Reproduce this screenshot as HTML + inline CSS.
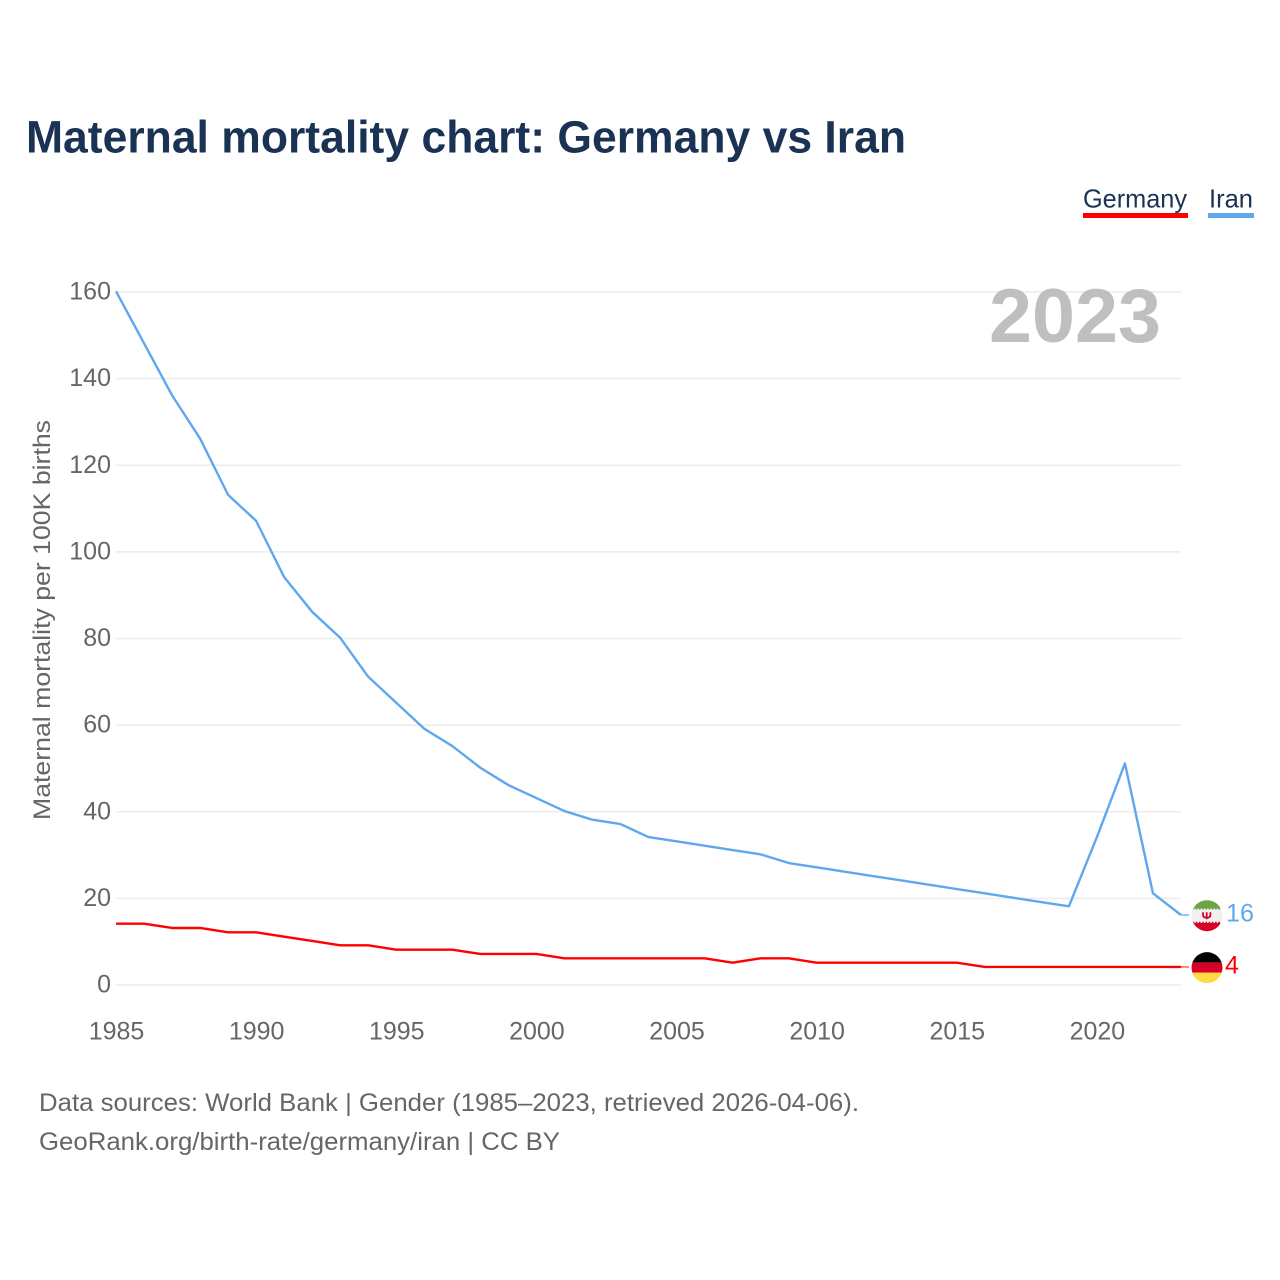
<!DOCTYPE html>
<html lang="en">
<head>
<meta charset="utf-8">
<title>Maternal mortality chart: Germany vs Iran</title>
<style>
html,body{margin:0;padding:0;background:#fff;width:1280px;height:1280px;overflow:hidden}
svg{display:block}
text{font-family:"Liberation Sans",sans-serif}
</style>
</head>
<body>
<svg id="chart" xmlns="http://www.w3.org/2000/svg" width="1280" height="1280" viewBox="0 0 1280 1280">
  <defs>
    <clipPath id="clip-iran"><circle id="clip-iran-circle" cx="1207" cy="915" r="15.5"></circle></clipPath>
    <clipPath id="clip-germany"><circle id="clip-germany-circle" cx="1207" cy="967" r="15.5"></circle></clipPath>
  </defs>
  <text x="26" y="152.5" font-size="45" font-weight="700" fill="#1a3354" textLength="880" lengthAdjust="spacingAndGlyphs">Maternal mortality chart: Germany vs Iran</text>

  <g>
    <g>
      <text x="1083" y="207.5" font-size="26" fill="#1a3354" textLength="104" lengthAdjust="spacingAndGlyphs">Germany</text>
      <rect x="1083" y="213" width="105" height="5" fill="#ff0000"></rect>
    </g>
    <g>
      <text x="1209" y="207.5" font-size="26" fill="#1a3354" textLength="44" lengthAdjust="spacingAndGlyphs">Iran</text>
      <rect x="1208" y="213" width="46" height="5" fill="#5fa8ee"></rect>
    </g>
  </g>

  <g id="grid"></g>
  <g id="y-ticks"></g>
  <g id="x-ticks"></g>

  <text x="989" y="342" font-size="76" font-weight="700" fill="#bfbfbf" textLength="172" lengthAdjust="spacingAndGlyphs">2023</text>

  <text transform="translate(50,820) rotate(-90)" x="0" y="0" font-size="24" fill="#666666" textLength="400" lengthAdjust="spacingAndGlyphs">Maternal mortality per 100K births</text>

  <g id="series" transform="translate(0,-0.7)"></g>

  <g id="flag-iran" clip-path="url(#clip-iran)"></g>
  <g id="flag-germany" clip-path="url(#clip-germany)"></g>
  <text id="value-iran" x="1226" font-size="25" fill="#5fa8ee" textLength="28" lengthAdjust="spacingAndGlyphs"></text>
  <text id="value-germany" x="1225" font-size="25" fill="#ff0000"></text>

  <text x="39" y="1111" font-size="25" fill="#666666" textLength="820" lengthAdjust="spacingAndGlyphs">Data sources: World Bank | Gender (1985–2023, retrieved 2026-04-06).</text>
  <text x="39" y="1150" font-size="25" fill="#666666" textLength="521" lengthAdjust="spacingAndGlyphs">GeoRank.org/birth-rate/germany/iran | CC BY</text>
</svg>
<script>
const years = [1985,1986,1987,1988,1989,1990,1991,1992,1993,1994,1995,1996,1997,1998,1999,2000,2001,2002,2003,2004,2005,2006,2007,2008,2009,2010,2011,2012,2013,2014,2015,2016,2017,2018,2019,2020,2021,2022,2023];
const iranValues = [160,148,136,126,113,107,94,86,80,71,65,59,55,50,46,43,40,38,37,34,33,32,31,30,28,27,26,25,24,23,22,21,20,19,18,34,51,21,16];
const germanyValues = [14,14,13,13,12,12,11,10,9,9,8,8,8,7,7,7,6,6,6,6,6,6,5,6,6,5,5,5,5,5,5,4,4,4,4,4,4,4,4];
const yTickValues = [0,20,40,60,80,100,120,140,160];
const xTickValues = [1985,1990,1995,2000,2005,2010,2015,2020];

const NS = 'http://www.w3.org/2000/svg';
function xScale(year){ return 116 + (year - 1985) * (1181 - 116) / 38; }
function yScale(v){ return 985 - v * (985 - 292) / 160; }
function make(tag, attrs, parent){
  const el = document.createElementNS(NS, tag);
  for (const k in attrs) el.setAttribute(k, attrs[k]);
  parent.appendChild(el);
  return el;
}

const grid = document.getElementById('grid');
const yTicks = document.getElementById('y-ticks');
yTickValues.forEach(function(v){
  const line = make('line', {x1:116, x2:1181, y1:yScale(v), y2:yScale(v), stroke:'#ececec', 'stroke-width':1.4}, grid);
  
  
  const label = make('text', {x:111, y:yScale(v) + 7.5, 'text-anchor':'end', 'font-size':25, fill:'#666666'}, yTicks);
  
  
  label.textContent = v;
});

const xTicks = document.getElementById('x-ticks');
xTickValues.forEach(function(y){
  const label = make('text', {x:xScale(y) + 0.5, y:1039.5, 'text-anchor':'middle', 'font-size':25, fill:'#666666'}, xTicks);
  
  
  label.textContent = y;
});

function pathFor(values){
  return values.map(function(v, i){
    return (i ? 'L' : 'M') + xScale(years[i]).toFixed(2) + ' ' + yScale(v).toFixed(2);
  }).join(' ');
}
const series = document.getElementById('series');
const germanyLine = make('path', {d:pathFor(germanyValues), fill:'none', stroke:'#ff0000', 'stroke-width':2.4, 'stroke-linejoin':'round'}, series);


const iranLine = make('path', {d:pathFor(iranValues), fill:'none', stroke:'#5fa8ee', 'stroke-width':2.4, 'stroke-linejoin':'round'}, series);



const lastIran = iranValues[iranValues.length - 1];
const lastGermany = germanyValues[germanyValues.length - 1];
const iranY = yScale(lastIran);
const germanyY = yScale(lastGermany);

const iranConnector = make('line', {x1:1181, x2:1189, y1:iranY, y2:iranY, stroke:'#5fa8ee', 'stroke-width':1.6, opacity:0.8}, series);


const germanyConnector = make('line', {x1:1181, x2:1189, y1:germanyY, y2:germanyY, stroke:'#ff0000', 'stroke-width':1.6, opacity:0.6}, series);



document.getElementById('clip-iran-circle').setAttribute('cy', iranY);
document.getElementById('clip-germany-circle').setAttribute('cy', germanyY);

const fi = document.getElementById('flag-iran');
const iranGreen = make('rect', {x:1191, y:iranY - 16, width:32, height:10, fill:'#6da544'}, fi);


const iranWhite = make('rect', {x:1191, y:iranY - 6, width:32, height:12, fill:'#f0f0f0'}, fi);


const iranRed = make('rect', {x:1191, y:iranY + 6, width:32, height:10, fill:'#d80027'}, fi);


const iranTrimTop = make('line', {x1:1191, x2:1223, y1:iranY - 6.5, y2:iranY - 6.5, stroke:'#f0f0f0', 'stroke-width':1.5, 'stroke-dasharray':'1.6 1.6'}, fi);


const iranTrimBottom = make('line', {x1:1191, x2:1223, y1:iranY + 6.5, y2:iranY + 6.5, stroke:'#f0f0f0', 'stroke-width':1.5, 'stroke-dasharray':'1.6 1.6'}, fi);


const iranEmblem = make('path', {d:'M1203 ' + (iranY - 3.5) + ' v2.5 q0 3 3.7 3 q3.7 0 3.7 -3 v-2.5 M1206.7 ' + (iranY - 3.5) + ' v7', fill:'none', stroke:'#d80027', 'stroke-width':1.8}, fi);



const fg = document.getElementById('flag-germany');
const germanyBlack = make('rect', {x:1191, y:germanyY - 16, width:32, height:11, fill:'#000000'}, fg);


const germanyRed = make('rect', {x:1191, y:germanyY - 5, width:32, height:10, fill:'#d80027'}, fg);


const germanyGold = make('rect', {x:1191, y:germanyY + 5, width:32, height:11, fill:'#ffda44'}, fg);



const vi = document.getElementById('value-iran');
vi.setAttribute('y', iranY + 6);
vi.textContent = lastIran;
const vg = document.getElementById('value-germany');
vg.setAttribute('y', germanyY + 6);
vg.textContent = lastGermany;
</script>
</body>
</html>
